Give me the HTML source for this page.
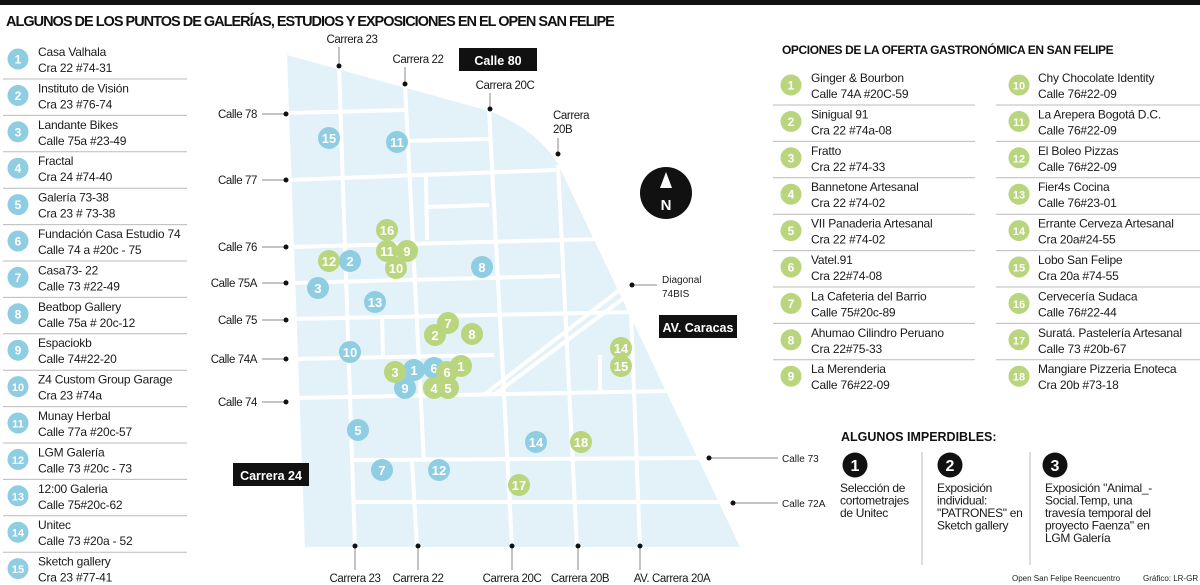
<!DOCTYPE html>
<html><head><meta charset="utf-8"><style>
body{margin:0;background:#fff;}
svg{display:block;font-family:"Liberation Sans",sans-serif;}
.t{font-size:12px;fill:#1a1a1a;letter-spacing:-0.2px}
.lb{font-size:11.5px;fill:#1a1a1a;letter-spacing:-0.4px}
</style></head><body>
<svg id="s" width="1200" height="585" viewBox="0 0 1200 585">
<rect x="0" y="0" width="1200" height="5" fill="#111"/>
<text x="6" y="26" font-size="14.5" font-weight="bold" letter-spacing="-1" fill="#111">ALGUNOS DE LOS PUNTOS DE GALERÍAS, ESTUDIOS Y EXPOSICIONES EN EL OPEN SAN FELIPE</text>
<text x="782" y="54" font-size="12" font-weight="bold" letter-spacing="-0.4" fill="#111">OPCIONES DE LA OFERTA GASTRONÓMICA EN SAN FELIPE</text>

<g id="map">
<path d="M287,55 L489,111 Q535,128 558,164 L740,547 L305,547 Z" fill="#e3f1f8"/>
<g stroke="#fff" stroke-width="4" fill="none">
<line x1="288" y1="113" x2="405" y2="110"/>
<line x1="405" y1="141" x2="489" y2="139"/>
<line x1="289" y1="180" x2="556" y2="170"/>
<line x1="427" y1="207" x2="489" y2="205"/>
<line x1="291" y1="247" x2="600" y2="239"/>
<line x1="292" y1="283" x2="560" y2="276"/>
<line x1="293" y1="319" x2="633" y2="312"/>
<line x1="294" y1="359" x2="494" y2="355"/>
<line x1="295" y1="398" x2="672" y2="391"/>
<line x1="352" y1="460" x2="703" y2="458"/>
<line x1="354" y1="502" x2="728" y2="502"/>
<line x1="339" y1="66" x2="355" y2="547"/>
<line x1="405" y1="85" x2="424" y2="462"/>
<line x1="412" y1="460" x2="417" y2="547"/>
<line x1="426" y1="175" x2="427" y2="240"/>
<line x1="382" y1="316" x2="383" y2="356"/>
<line x1="489" y1="110" x2="512" y2="547"/>
<line x1="558" y1="165" x2="577" y2="547"/>
<line x1="631" y1="312" x2="640" y2="547"/>
<line x1="600" y1="355" x2="600" y2="392"/>
<line x1="626" y1="285" x2="485" y2="394"/>
<line x1="632" y1="292" x2="495" y2="394"/>
</g>
</g>
<g id="labels"></g>
<g id="markers"></g>

<rect x="459" y="48" width="78" height="23" fill="#111"/>
<text x="498" y="65" text-anchor="middle" font-size="12.5" font-weight="bold" fill="#fff">Calle 80</text>
<rect x="659" y="315" width="78" height="23" fill="#111"/>
<text x="698" y="332" text-anchor="middle" font-size="12.5" font-weight="bold" fill="#fff">AV. Caracas</text>
<rect x="233" y="463" width="76" height="23" fill="#111"/>
<text x="271" y="480" text-anchor="middle" font-size="12.5" font-weight="bold" fill="#fff">Carrera 24</text>
<g>
<circle cx="666" cy="193" r="26" fill="#111"/>
<polygon points="666,172 660,188 672,188" fill="#fff"/>
<text x="666" y="210" text-anchor="middle" font-size="15" font-weight="bold" fill="#fff">N</text>
</g>

<g id="leftlist"></g>
<g id="rightlist"></g>

<text x="841" y="441" font-size="12.5" font-weight="bold" fill="#111">ALGUNOS IMPERDIBLES:</text>
<line x1="922" y1="452" x2="922" y2="565" stroke="#bbb"/>
<line x1="1030" y1="452" x2="1030" y2="565" stroke="#bbb"/>
<g id="must"></g>
<text x="1012" y="581" font-size="8" fill="#222">Open San Felipe Reencuentro</text>
<text x="1143" y="581" font-size="8" fill="#222">Gráfico: LR-GR</text>
</svg>
<script>
const NS='http://www.w3.org/2000/svg';
function mk(tag,attrs,parent,txt){const e=document.createElementNS(NS,tag);for(const k in attrs)e.setAttribute(k,attrs[k]);if(txt!==undefined)e.textContent=txt;parent.appendChild(e);return e;}

const galleryNames=['Casa Valhala','Instituto de Visión','Landante Bikes','Fractal','Galería 73-38','Fundación Casa Estudio 74','Casa73- 22','Beatbop Gallery','Espaciokb','Z4 Custom Group Garage','Munay Herbal','LGM Galería','12:00 Galeria','Unitec','Sketch gallery'];
const galleryAddr=['Cra 22 #74-31','Cra 23 #76-74','Calle 75a #23-49','Cra 24 #74-40','Cra 23 # 73-38','Calle 74 a #20c - 75','Calle 73 #22-49','Calle 75a # 20c-12','Calle 74#22-20','Cra 23 #74a','Calle 77a #20c-57','Calle 73 #20c - 73','Calle 75#20c-62','Calle 73 #20a - 52','Cra 23 #77-41'];
const foodNames=['Ginger & Bourbon','Sinigual 91','Fratto','Bannetone Artesanal','VII Panaderia Artesanal','Vatel.91','La Cafeteria del Barrio','Ahumao Cilindro Peruano','La Merenderia','Chy Chocolate Identity','La Arepera Bogotá D.C.','El Boleo Pizzas','Fier4s Cocina','Errante Cerveza Artesanal','Lobo San Felipe','Cervecería Sudaca','Suratá. Pastelería Artesanal','Mangiare Pizzeria Enoteca'];
const foodAddr=['Calle 74A #20C-59','Cra 22 #74a-08','Cra 22 #74-33','Cra 22 #74-02','Cra 22 #74-02','Cra 22#74-08','Calle 75#20c-89','Cra 22#75-33','Calle 76#22-09','Calle 76#22-09','Calle 76#22-09','Calle 76#22-09','Calle 76#23-01','Cra 20a#24-55','Cra 20a #74-55','Calle 76#22-44','Calle 73 #20b-67','Cra 20b #73-18'];
const blueIds=[15,11,2,3,8,13,10,1,6,9,5,14,7,12];
const blueX=[329,397,350,318,482,375,350,414,434,405,358,536,382,439];
const blueY=[138,142,261,288,267,302,352,370,368,388,430,442,470,470];
const greenIds=[16,11,9,10,12,7,2,8,3,6,1,4,5,14,15,18,17];
const greenX=[387,387,407,396,329,448,435,472,395,447,461,434,448,621,621,581,519];
const greenY=[230,251,251,268,261,323,335,334,372,372,366,388,388,348,366,442,485];
const BLUE='#8ecde2',GREEN='#b9d57e';

const mg=document.getElementById('markers');
function marker(x,y,n,c,name){const g=mk('g',{},mg);


mk('circle',{cx:x,cy:y,r:11,fill:c},g);mk('text',{x:x,y:y+5,'text-anchor':'middle','font-size':13,'font-weight':'bold',fill:'#fff'},g,n);}
blueIds.forEach((n,i)=>marker(blueX[i],blueY[i],n,BLUE,'gallery-marker-'+n));
greenIds.forEach((n,i)=>marker(greenX[i],greenY[i],n,GREEN,'food-marker-'+n));

const lg=document.getElementById('labels');
const leftCalles=[['Calle 78',114],['Calle 77',180],['Calle 76',247],['Calle 75A',283],['Calle 75',320],['Calle 74A',359],['Calle 74',402]];
leftCalles.forEach(([t,y])=>{const g=mk('g',{},lg);


mk('text',{x:257,y:y+4,'text-anchor':'end',class:'lb'},g,t);mk('line',{x1:262,y1:y,x2:286,y2:y,stroke:'#888'},g);mk('circle',{cx:286,cy:y,r:2.5,fill:'#111'},g);});
const bottomC=[['Carrera 23',355,355],['Carrera 22',418,418],['Carrera 20C',512,512],['Carrera 20B',578,580],['AV. Carrera 20A',640,672]];
bottomC.forEach(([t,x,tx])=>{const g=mk('g',{},lg);


mk('text',{x:tx,y:582,'text-anchor':'middle',class:'lb'},g,t);mk('line',{x1:x,y1:546,x2:x,y2:570,stroke:'#888'},g);mk('circle',{cx:x,cy:546,r:2.5,fill:'#111'},g);});
const topC=[['Carrera 23',352,43,339,66],['Carrera 22',418,63,405,84],['Carrera 20C',505,89,490,109]];
topC.forEach(([t,tx,ty,x,y])=>{const g=mk('g',{},lg);


mk('text',{x:tx,y:ty,'text-anchor':'middle',class:'lb'},g,t);mk('line',{x1:x,y1:ty+4,x2:x,y2:y,stroke:'#888'},g);mk('circle',{cx:x,cy:y,r:2.5,fill:'#111'},g);});
(function(){const g=mk('g',{},lg);


mk('text',{x:553,y:119,class:'lb'},g,'Carrera');mk('text',{x:553,y:133,class:'lb'},g,'20B');
mk('line',{x1:558,y1:138,x2:558,y2:154,stroke:'#888'},g);mk('circle',{cx:558,cy:154,r:2.5,fill:'#111'},g);
mk('text',{x:662,y:283,'font-size':10,fill:'#1a1a1a'},g,'Diagonal');mk('text',{x:662,y:297,'font-size':10,fill:'#1a1a1a'},g,'74BIS');
mk('line',{x1:632,y1:285,x2:657,y2:285,stroke:'#888'},g);mk('circle',{cx:632,cy:285,r:2.5,fill:'#111'},g);
[['Calle 73',458,709],['Calle 72A',503,733]].forEach(([t,y,x])=>{mk('line',{x1:x,y1:y,x2:778,y2:y,stroke:'#888'},g);mk('circle',{cx:x,cy:y,r:2.5,fill:'#111'},g);mk('text',{x:782,y:y+4,'font-size':10,fill:'#1a1a1a'},g,t);});
})();

function listItem(parent,cx,tx,y,n,name,addr,c,sepX1,sepX2,last,dn){const g=mk('g',{},parent);


mk('circle',{cx:cx,cy:y,r:10.5,fill:c},g);mk('text',{x:cx,y:y+4.5,'text-anchor':'middle','font-size':n>9?11:12,'font-weight':'bold',fill:'#fff'},g,n);
mk('text',{x:tx,y:y-3,class:'t'},g,name);mk('text',{x:tx,y:y+13,class:'t'},g,addr);
if(!last)mk('line',{x1:sepX1,y1:y+20,x2:sepX2,y2:y+20,stroke:'#bbb'},g);}
const ll=document.getElementById('leftlist');
galleryNames.forEach((nm,i)=>listItem(ll,18,38,59+i*36.4,i+1,nm,galleryAddr[i],BLUE,3,187,i==14,'gallery-entry-'+(i+1)));
const rl=document.getElementById('rightlist');
foodNames.forEach((nm,i)=>{const col=i<9?0:1,r=i%9;listItem(rl,col?1019:791,col?1038:811,85+r*36.4,i+1,nm,foodAddr[i],GREEN,col?996:773,col?1200:975,r==8,'food-entry-'+(i+1));});

const must=document.getElementById('must');
const mustX=[855,950,1055],mustTX=[840,937,1045];
const mustText=[['Selección de','cortometrajes','de Unitec'],['Exposición','individual:','"PATRONES" en','Sketch gallery'],['Exposición "Animal_-','Social.Temp, una','travesía temporal del','proyecto Faenza" en','LGM Galería']];
mustText.forEach((lines,i)=>{const g=mk('g',{},must);


mk('circle',{cx:mustX[i],cy:465,r:12.5,fill:'#111'},g);mk('text',{x:mustX[i],y:471,'text-anchor':'middle','font-size':16,'font-weight':'bold',fill:'#fff'},g,i+1);
lines.forEach((l,j)=>mk('text',{x:mustTX[i],y:492+j*12.5,'font-size':12,fill:'#1a1a1a','letter-spacing':'-0.3'},g,l));});
</script>
</body></html>
